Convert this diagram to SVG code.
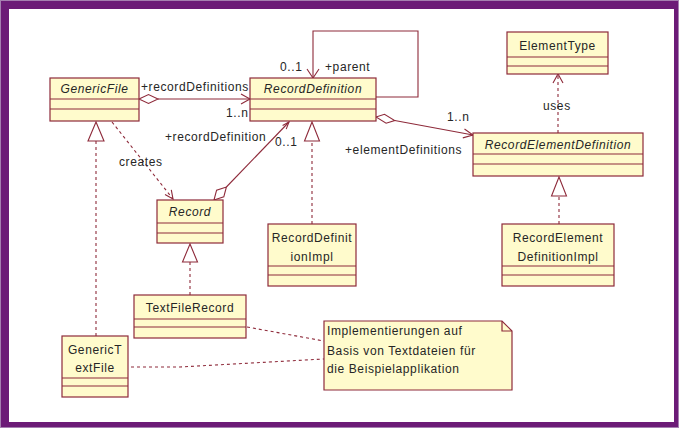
<svg xmlns="http://www.w3.org/2000/svg" width="679" height="428" viewBox="0 0 679 428">
<style>
.box{fill:#fffbcc;stroke:#8e2a3a;stroke-width:1.2}
.sep{stroke:#8e2a3a;stroke-width:1.2;fill:none}
.t{font-family:"Liberation Sans",Arial,sans-serif;font-size:12px;fill:#262626;letter-spacing:0.6px}
.c{text-anchor:middle}
.i{font-style:italic}
.ln{stroke:#8e2a3a;stroke-width:1.1;fill:none}
.dash{stroke:#8e2a3a;stroke-width:1.1;fill:none;stroke-dasharray:3,3}
.dia{fill:#fff;stroke:#8e2a3a;stroke-width:1.1}
.tri{fill:#fff;stroke:#8e2a3a;stroke-width:1.1}
</style>
<rect x="0" y="0" width="679" height="428" fill="#6c1b77"/>
<rect x="0.5" y="0.5" width="678" height="427" fill="none" stroke="#a57fb0" stroke-width="1"/>
<rect x="9" y="9" width="665" height="413" fill="#ffffff"/>

<g id="connectors">
  <!-- self loop parent -->
  <polyline class="ln" points="376,97 418,97 418,31 313,31 313,78"/>
  <polyline class="ln" points="307,69 313,78 319,69"/>
  <!-- GenericFile -> RecordDefinition -->
  <line class="ln" x1="158" y1="99" x2="250" y2="99"/>
  <polygon class="dia" points="139,99 148.5,94.5 158,99 148.5,103.5"/>
  <polyline class="ln" points="241,94 250,99 241,104"/>
  <!-- RecordDefinition -> RecordElementDefinition -->
  <line class="ln" x1="394.7" y1="120.5" x2="473" y2="135"/>
  <polygon class="dia" points="376,117 384.5,114.3 394.7,120.5 386.1,123.2"/>
  <polyline class="ln" points="464.5,129 473,135 462.8,137.9"/>
  <!-- Record -> RecordDefinition -->
  <line class="ln" x1="226.4" y1="187" x2="289" y2="122"/>
  <polygon class="dia" points="214,200 216.6,190.2 226.4,187 223.8,196.8"/>
  <polyline class="ln" points="282.6,125.6 289,122 286.2,129.1"/>
  <!-- creates -->
  <line class="dash" x1="112" y1="122" x2="173" y2="199"/>
  <polyline class="ln" points="165,194.5 173,199 171.3,189.9"/>
  <!-- uses -->
  <line class="dash" x1="558" y1="133" x2="558" y2="75"/>
  <polyline class="ln" points="553,83 558,74 563,83"/>
  <!-- generalizations -->
  <line class="dash" x1="96" y1="336" x2="96" y2="141"/>
  <polygon class="tri" points="96,122 88,141 104,141"/>
  <line class="dash" x1="190" y1="295" x2="190" y2="262"/>
  <polygon class="tri" points="190,244 182.5,262 197.5,262"/>
  <line class="dash" x1="312" y1="224" x2="312" y2="141"/>
  <polygon class="tri" points="312,122 304.5,141 319.5,141"/>
  <line class="dash" x1="559" y1="224" x2="559" y2="196"/>
  <polygon class="tri" points="559,177 551.5,196 566.5,196"/>
  <!-- note anchors -->
  <line class="dash" x1="247" y1="327" x2="324" y2="341"/>
  <polyline class="dash" points="131,367 180,367 324,359"/>
</g>

<g id="GenericFile">
  <rect class="box" x="50" y="78" width="89" height="43"/>
  <line class="sep" x1="50" y1="99" x2="139" y2="99"/>
  <line class="sep" x1="50" y1="109" x2="139" y2="109"/>
  <text class="t c i" x="94.5" y="93">GenericFile</text>
</g>
<g id="RecordDefinition">
  <rect class="box" x="250" y="78" width="126" height="43"/>
  <line class="sep" x1="250" y1="99" x2="376" y2="99"/>
  <line class="sep" x1="250" y1="109" x2="376" y2="109"/>
  <text class="t c i" x="313" y="93">RecordDefinition</text>
</g>
<g id="ElementType">
  <rect class="box" x="507" y="32" width="101" height="42"/>
  <line class="sep" x1="507" y1="57" x2="608" y2="57"/>
  <line class="sep" x1="507" y1="66" x2="608" y2="66"/>
  <text class="t c" x="557.5" y="50">ElementType</text>
</g>
<g id="RecordElementDefinition">
  <rect class="box" x="473" y="133" width="170" height="43"/>
  <line class="sep" x1="473" y1="154" x2="643" y2="154"/>
  <line class="sep" x1="473" y1="164" x2="643" y2="164"/>
  <text class="t c i" x="558" y="149">RecordElementDefinition</text>
</g>
<g id="Record">
  <rect class="box" x="157" y="200" width="66" height="43"/>
  <line class="sep" x1="157" y1="223" x2="223" y2="223"/>
  <line class="sep" x1="157" y1="233" x2="223" y2="233"/>
  <text class="t c i" x="190" y="216">Record</text>
</g>
<g id="RecordDefinitionImpl">
  <rect class="box" x="268" y="224" width="88" height="62"/>
  <line class="sep" x1="268" y1="266" x2="356" y2="266"/>
  <line class="sep" x1="268" y1="275" x2="356" y2="275"/>
  <text class="t c" x="312" y="242">RecordDefinit</text>
  <text class="t c" x="312" y="261">ionImpl</text>
</g>
<g id="RecordElementDefinitionImpl">
  <rect class="box" x="502" y="224" width="112" height="62"/>
  <line class="sep" x1="502" y1="266" x2="614" y2="266"/>
  <line class="sep" x1="502" y1="275" x2="614" y2="275"/>
  <text class="t c" x="558" y="242">RecordElement</text>
  <text class="t c" x="558" y="261">DefinitionImpl</text>
</g>
<g id="TextFileRecord">
  <rect class="box" x="134" y="295" width="112" height="43"/>
  <line class="sep" x1="134" y1="319" x2="246" y2="319"/>
  <line class="sep" x1="134" y1="327" x2="246" y2="327"/>
  <text class="t c" x="190" y="312">TextFileRecord</text>
</g>
<g id="GenericTextFile">
  <rect class="box" x="62" y="336" width="66" height="61"/>
  <line class="sep" x1="62" y1="378" x2="128" y2="378"/>
  <line class="sep" x1="62" y1="386" x2="128" y2="386"/>
  <text class="t c" x="95" y="354">GenericT</text>
  <text class="t c" x="95" y="372">extFile</text>
</g>
<g id="Note">
  <polygon class="box" points="324,321 502,321 512,331 512,390 324,390"/>
  <polyline class="sep" points="502,321 502,331 512,331"/>
  <text class="t" x="327" y="335">Implementierungen auf</text>
  <text class="t" x="327" y="355">Basis von Textdateien für</text>
  <text class="t" x="327" y="373">die Beispielapplikation</text>
</g>

<g id="labels">
  <text class="t" x="280" y="71">0..1</text>
  <text class="t" x="325" y="71">+parent</text>
  <text class="t" x="141" y="91">+recordDefinitions</text>
  <text class="t" x="226" y="117">1..n</text>
  <text class="t" x="165" y="141">+recordDefinition</text>
  <text class="t" x="275" y="146">0..1</text>
  <text class="t" x="119" y="166">creates</text>
  <text class="t" x="447" y="121">1..n</text>
  <text class="t" x="345" y="154">+elementDefinitions</text>
  <text class="t" x="543" y="110">uses</text>
</g>
</svg>
